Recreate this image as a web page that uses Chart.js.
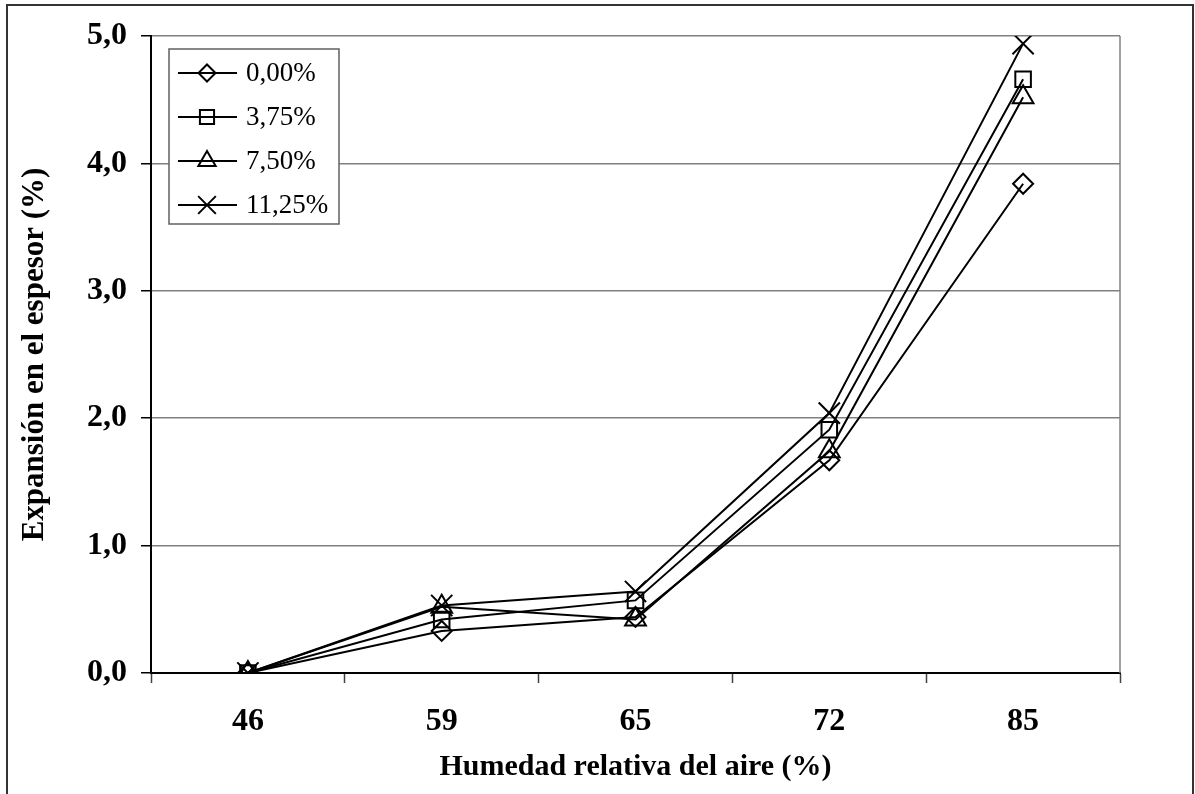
<!DOCTYPE html>
<html>
<head>
<meta charset="utf-8">
<script src="https://cdn.jsdelivr.net/npm/chart.js@4/dist/chart.umd.min.js"></script>
<style>
  html, body { margin: 0; padding: 0; background: #fff; }
  canvas { display: block; }
</style>
</head>
<body>
<canvas id="chart" width="1195" height="794"></canvas>
<script>
// Relative air humidity (%) on the category axis
const humedad = ['46', '59', '65', '72', '85'];

// Thickness swelling (%) for each additive level
const serieNames = ['0,00%', '3,75%', '7,50%', '11,25%'];
const exp000  = [0, 0.33, 0.44, 1.67, 3.84];
const exp375  = [0, 0.42, 0.57, 1.91, 4.66];
const exp750  = [0, 0.52, 0.42, 1.74, 4.52];
const exp1125 = [0, 0.53, 0.64, 2.04, 4.94];

const serieValues = [exp000, exp375, exp750, exp1125];
const serieMarkers = ['rectRot', 'rect', 'triangle', 'crossRot'];
const markerRadius = [10, 11, 12, 15];
const legendRadius = [8.5, 10, 10, 12.5];

const FONT = '"Liberation Serif", "Times New Roman", serif';

// White page with a thin frame around the whole figure
const frame = {
  id: 'frame',
  beforeDraw(chart) {
    const ctx = chart.ctx;
    ctx.save();
    ctx.fillStyle = '#fff';
    ctx.fillRect(0, 0, chart.width, chart.height);
    ctx.strokeStyle = '#333';
    ctx.lineWidth = 2;
    ctx.strokeRect(7, 5, 1186, 820);
    ctx.restore();
  },
  beforeDatasetsDraw(chart) {
    // right edge of the plot area
    const { ctx, chartArea } = chart;
    ctx.save();
    ctx.strokeStyle = '#808080';
    ctx.lineWidth = 1.5;
    ctx.beginPath();
    ctx.moveTo(chartArea.right, chartArea.top);
    ctx.lineTo(chartArea.right, chartArea.bottom);
    ctx.stroke();
    ctx.restore();
  }
};

// Boxed legend in the upper-left corner of the plot area
const legendBox = {
  id: 'legendBox',
  afterDraw(chart) {
    const ctx = chart.ctx;
    const x0 = 169, y0 = 49, w = 170, h = 175;
    ctx.save();
    ctx.fillStyle = '#fff';
    ctx.fillRect(x0, y0, w, h);
    ctx.strokeStyle = '#606060';
    ctx.lineWidth = 1.5;
    ctx.strokeRect(x0, y0, w, h);
    chart.data.datasets.forEach((ds, i) => {
      const cy = 73 + i * 44;
      ctx.strokeStyle = '#000';
      ctx.lineWidth = 2;
      ctx.beginPath();
      ctx.moveTo(178, cy);
      ctx.lineTo(237, cy);
      ctx.stroke();
      ctx.fillStyle = 'rgba(0,0,0,0)';
      Chart.helpers.drawPoint(ctx, {
        pointStyle: ds.pointStyle,
        radius: legendRadius[i],
        borderWidth: 2,
        rotation: 0
      }, 207, cy);
      ctx.fillStyle = '#000';
      ctx.font = '27px ' + FONT;
      ctx.textAlign = 'left';
      ctx.textBaseline = 'middle';
      ctx.fillText(ds.label, 246, cy + 1);
    });
    ctx.restore();
  }
};

const datasets = serieNames.map((name, i) => ({
  label: name,
  data: serieValues[i],
  borderColor: '#000',
  borderWidth: 2,
  backgroundColor: 'rgba(0,0,0,0)',
  pointStyle: serieMarkers[i],
  pointRadius: markerRadius[i],
  pointBorderWidth: 2,
  pointBorderColor: '#000',
  pointBackgroundColor: 'rgba(0,0,0,0)',
  tension: 0,
  fill: false
}));

new Chart(document.getElementById('chart'), {
  type: 'line',
  data: { labels: humedad, datasets },
  options: {
    responsive: false,
    animation: false,
    layout: { padding: { left: 0, top: 36, right: 75, bottom: 0 } },
    plugins: {
      legend: { display: false },
      tooltip: { enabled: false }
    },
    scales: {
      x: {
        type: 'category',
        offset: true,
        grid: {
          offset: true,
          drawOnChartArea: false,
          drawTicks: true,
          tickLength: 10,
          tickColor: '#404040',
          tickWidth: 1.5
        },
        border: { color: '#000', width: 2 },
        ticks: {
          color: '#000',
          padding: 20,
          maxRotation: 0,
          font: { family: FONT, size: 32, weight: 'bold' }
        },
        title: {
          display: true,
          text: 'Humedad relativa del aire (%)',
          color: '#000',
          font: { family: FONT, size: 30, weight: 'bold' },
          padding: { top: 0, bottom: 9 }
        },
        afterFit(scale) { scale.height = 121; }
      },
      y: {
        min: 0,
        max: 5,
        grid: {
          color: '#808080',
          lineWidth: 1.5,
          tickLength: 10,
          tickColor: '#000',
          tickWidth: 1.5
        },
        border: { color: '#000', width: 2 },
        ticks: {
          stepSize: 1,
          color: '#000',
          padding: 14,
          font: { family: FONT, size: 32, weight: 'bold' },
          callback: v => Number(v).toFixed(1).replace('.', ',')
        },
        title: {
          display: true,
          text: 'Expansión en el espesor (%)',
          color: '#000',
          font: { family: FONT, size: 31, weight: 'bold' },
          padding: { top: 16, bottom: 0 }
        },
        afterFit(scale) { scale.width = 151; }
      }
    }
  },
  plugins: [frame, legendBox]
});
</script>
</body>
</html>
